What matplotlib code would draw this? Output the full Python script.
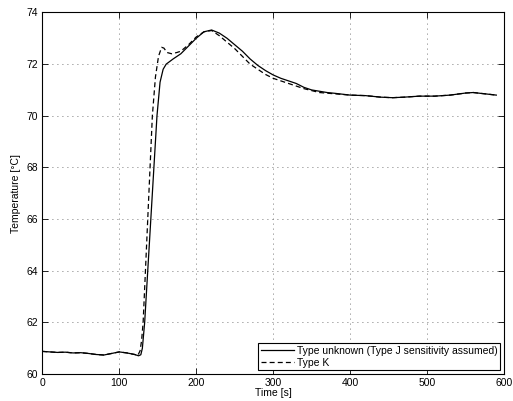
import numpy as np
import matplotlib
matplotlib.use('Agg')
from matplotlib import pyplot as plt

plt.rcParams['font.family'] = ['Liberation Sans', 'DejaVu Sans']
plt.rcParams['font.size'] = 7.5

# time [s] and temperature [C]
t_j = [0, 10, 20, 30, 40, 50, 60, 70, 80, 90, 100, 110, 120, 125, 128, 130,
       133, 137, 141, 145, 149, 153, 157, 161, 170, 180, 190, 200, 210, 220,
       230, 240, 250, 260, 270, 280, 290, 300, 310, 320, 330, 340, 350, 360,
       370, 380, 400, 420, 440, 455, 470, 490, 510, 530, 550, 560, 575, 590]
temp_j = [60.88, 60.86, 60.84, 60.85, 60.82, 60.83, 60.8, 60.76, 60.74, 60.8,
          60.86, 60.82, 60.76, 60.71, 60.75, 61.0, 62.0, 64.0, 66.0, 68.0,
          70.0, 71.3, 71.8, 72.0, 72.2, 72.4, 72.7, 73.0, 73.25, 73.32,
          73.2, 73.0, 72.75, 72.5, 72.2, 71.95, 71.75, 71.58, 71.45, 71.35,
          71.25, 71.1, 71.0, 70.95, 70.9, 70.87, 70.8, 70.78, 70.72, 70.7,
          70.72, 70.76, 70.76, 70.8, 70.88, 70.9, 70.85, 70.8]

t_k = [0, 10, 20, 30, 40, 50, 60, 70, 80, 90, 100, 110, 120, 124, 127, 129,
       131, 134, 137, 140, 143, 147, 151, 155, 158, 162, 168, 175, 180, 190,
       200, 210, 220, 230, 240, 250, 260, 270, 280, 290, 300, 320, 340, 360,
       380, 400, 420, 440, 455, 470, 490, 510, 530, 550, 560, 575, 590]
temp_k = [60.88, 60.86, 60.84, 60.85, 60.82, 60.83, 60.8, 60.76, 60.74, 60.8,
          60.86, 60.82, 60.76, 60.72, 60.9, 61.3, 62.0, 64.0, 66.0, 68.0,
          70.0, 71.5, 72.3, 72.65, 72.62, 72.45, 72.4, 72.45, 72.5, 72.75,
          73.05, 73.25, 73.3, 73.1, 72.85, 72.6, 72.3, 72.0, 71.8, 71.6,
          71.45, 71.25, 71.05, 70.9, 70.85, 70.8, 70.78, 70.72, 70.7, 70.72,
          70.76, 70.76, 70.8, 70.88, 70.9, 70.85, 70.8]

fig = plt.figure(figsize=(5.13, 4.01), dpi=100)
ax = fig.add_axes([0.0825, 0.067, 0.9, 0.902])

ax.plot(t_j, temp_j, 'k-', lw=0.9, label='Type unknown (Type J sensitivity assumed)')
ax.plot(t_k, temp_k, 'k--', lw=0.9, dashes=(4, 2.5), label='Type K')

ax.set_xlim(0, 600)
ax.set_ylim(60, 74)
ax.set_xticks(np.arange(0, 601, 100))
ax.set_yticks(np.arange(60, 75, 2))
ax.grid(True, color='0.3', linestyle=(0, (1, 5)), linewidth=0.6)
ax.tick_params(direction='in', top=True, right=True, length=4.5, width=0.6, pad=3)
for s in ax.spines.values():
    s.set_linewidth(0.8)

ax.set_xlabel('Time [s]', labelpad=0)
ax.set_ylabel('Temperature [°C]', labelpad=4)

leg = ax.legend(loc='lower right', fancybox=False, framealpha=1, edgecolor='k',
                borderpad=0.25, labelspacing=0.2, handlelength=3.2,
                handletextpad=0.3, borderaxespad=0.35)
leg.get_frame().set_linewidth(0.8)

fig.savefig('out.png', dpi=100)
